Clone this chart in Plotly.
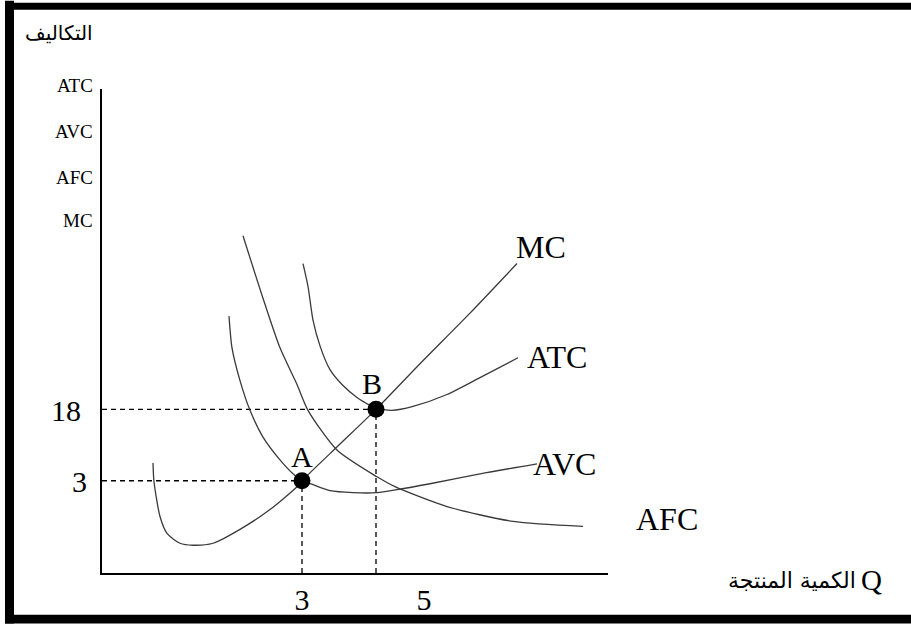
import plotly.graph_objects as go

# ---- data (x: quantity units, y: cost units) ----
mc_x = [0.765, 0.78, 0.87, 0.975, 1.17, 1.365, 1.665, 2.07, 2.52, 2.925, 3.0, 3.57, 4.11, 4.77, 5.52, 6.225]
mc_y = [5.55, 4.6, 2.85, 2.0, 1.5, 1.4, 1.5, 2.2, 3.2, 4.35, 4.65, 6.5, 8.25, 10.55, 13.1, 15.6]

atc_x = [3.015, 3.09, 3.165, 3.27, 3.42, 3.615, 3.825, 4.02, 4.11, 4.35, 4.665, 5.175, 5.67, 6.24]
atc_y = [15.6, 14.45, 12.75, 11.45, 10.25, 9.45, 8.85, 8.45, 8.3, 8.2, 8.4, 9.0, 9.85, 10.85]

avc_x = [1.905, 1.95, 2.07, 2.22, 2.415, 2.67, 2.865, 3.0, 3.165, 3.42, 3.765, 4.125, 4.425, 4.92, 5.67, 6.525]
avc_y = [12.95, 11.35, 9.7, 8.2, 6.85, 5.7, 5.0, 4.65, 4.45, 4.15, 4.05, 4.05, 4.2, 4.5, 5.0, 5.5]

afc_x = [2.115, 2.415, 2.67, 2.925, 3.09, 3.525, 4.125, 4.395, 5.175, 6.165, 7.215]
afc_y = [17.0, 13.85, 11.35, 9.5, 8.2, 6.2, 4.85, 4.35, 3.35, 2.6, 2.35]

point_names = ["A", "B"]
point_x = [3.0, 4.11]
point_y = [4.65, 8.25]

x_tick_vals = [3.0, 4.83]
x_tick_text = ["3", "5"]
y_tick_vals = [4.65, 8.25]
y_tick_text = ["3", "18"]

y_axis_names = ["ATC", "AVC", "AFC", "MC"]
curve_names = ["MC", "ATC", "AVC", "AFC"]

x_range = [0, 7.59]
y_range = [0, 24.4]

SERIF = "Liberation Serif, Times New Roman, serif"
ARABIC = "DejaVu Sans, Liberation Serif, serif"
curve_color = "#3a3a3a"

fig = go.Figure()

# dashed guide lines from the axes to A and B
for px_, py_ in zip(point_x, point_y):
    fig.add_trace(go.Scatter(x=[0, px_], y=[py_, py_], mode="lines",
                             line=dict(color="black", width=1.3, dash="5px,4px"),
                             hoverinfo="skip", showlegend=False))
    fig.add_trace(go.Scatter(x=[px_, px_], y=[0, py_], mode="lines",
                             line=dict(color="black", width=1.3, dash="5px,4px"),
                             hoverinfo="skip", showlegend=False))

for cx, cy, nm in [(mc_x, mc_y, "MC"), (atc_x, atc_y, "ATC"), (avc_x, avc_y, "AVC"), (afc_x, afc_y, "AFC")]:
    fig.add_trace(go.Scatter(x=cx, y=cy, mode="lines", name=nm,
                             line=dict(color=curve_color, width=1.3, shape="spline", smoothing=0.7),
                             showlegend=False))

fig.add_trace(go.Scatter(x=point_x, y=point_y, mode="markers",
                         marker=dict(color="black", size=17),
                         showlegend=False))

W, H = 911, 628
L, R, T, B = 102, 303, 89, 51
pw, ph = W - L - R, H - T - B

def px(x):
    return (x - L) / pw

def py(y):
    return (H - B - y) / ph

ann = []
# point labels A, B
for nm, ax_, ay_, dx, dy in zip(point_names, point_x, point_y, [0, -4], [24, 26]):
    ann.append(dict(x=ax_, y=ay_, xref="x", yref="y", text=nm, showarrow=False,
                    xshift=dx, yshift=dy, font=dict(family=SERIF, size=30, color="black")))

# y tick labels (cost values) placed left of the axis
for tv, tt, sh in zip(y_tick_vals, y_tick_text, [-13, -19]):
    ann.append(dict(x=0, y=tv, xref="x", yref="y", text=tt, showarrow=False,
                    xanchor="right", yanchor="middle", xshift=sh, yshift=-1,
                    font=dict(family=SERIF, size=30, color="black")))

# curve labels (pixel centres)
label_pos = {"MC": (541, 248), "ATC": (557, 359), "AVC": (564, 467), "AFC": (667, 523)}
for nm in curve_names:
    cxp, cyp = label_pos[nm]
    ann.append(dict(x=px(cxp), y=py(cyp), xref="paper", yref="paper", text=nm,
                    showarrow=False, xanchor="center", yanchor="middle",
                    font=dict(family=SERIF, size=32, color="black")))

# y-axis names list on the left
for nm, yy in zip(y_axis_names, [85, 132, 178, 222]):
    ann.append(dict(x=px(95), y=py(yy), xref="paper", yref="paper", text=nm,
                    showarrow=False, xanchor="right", yanchor="middle",
                    font=dict(family=SERIF, size=19, color="black")))

ann.append(dict(x=px(59), y=py(33), xref="paper", yref="paper", text="التكاليف",
                showarrow=False, xanchor="center", yanchor="middle",
                font=dict(family=ARABIC, size=20, color="black")))
ann.append(dict(x=px(858), y=py(585), xref="paper", yref="paper", text="الكمية المنتجة",
                showarrow=False, xanchor="right", yanchor="middle",
                font=dict(family=ARABIC, size=22, color="black")))
ann.append(dict(x=px(859), y=py(584), xref="paper", yref="paper", text="Q",
                showarrow=False, xanchor="left", yanchor="middle",
                font=dict(family=SERIF, size=29, color="black")))

# frame bands
shapes = [
    dict(type="rect", xref="paper", yref="paper", x0=px(5), x1=px(14), y0=py(628), y1=py(0),
         fillcolor="black", line=dict(width=0), layer="above"),
    dict(type="rect", xref="paper", yref="paper", x0=px(5), x1=px(911), y0=py(9), y1=py(2),
         fillcolor="black", line=dict(width=0), layer="above"),
    dict(type="rect", xref="paper", yref="paper", x0=px(5), x1=px(911), y0=py(628), y1=py(619),
         fillcolor="black", line=dict(width=0), layer="above"),
]

fig.update_layout(
    width=W, height=H, autosize=False,
    margin=dict(l=L, r=R, t=T, b=B, pad=0),
    paper_bgcolor="white", plot_bgcolor="white",
    annotations=ann, shapes=shapes,
    xaxis=dict(range=x_range, showgrid=False, zeroline=False, showline=True,
               linecolor="black", linewidth=1.5, ticks="",
               tickmode="array", tickvals=x_tick_vals, ticktext=x_tick_text,
               tickfont=dict(family=SERIF, size=30, color="black"),
               ticklabelstandoff=-1, fixedrange=True),
    yaxis=dict(range=y_range, showgrid=False, zeroline=False, showline=True,
               linecolor="black", linewidth=1.5, ticks="",
               showticklabels=False, fixedrange=True),
)

fig.write_html(
    "out.html",
    config={"displayModeBar": False, "responsive": False},
    post_script=(
        "document.documentElement.style.margin='0';"
        "document.body.style.margin='0';"
        "var gd=document.getElementById('{plot_id}');"
        "gd.style.position='fixed';gd.style.left='0px';gd.style.top='0px';"
    ),
)
